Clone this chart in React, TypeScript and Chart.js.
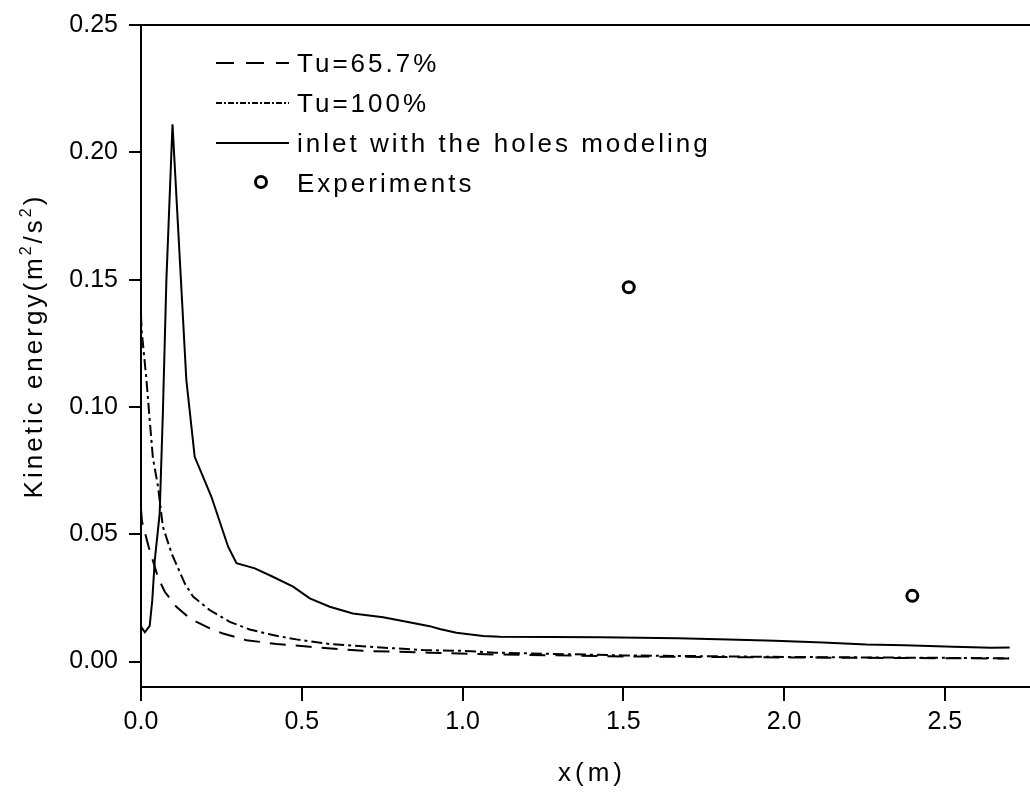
import React, { useEffect, useRef } from "react";
import { Chart, registerables } from "chart.js";

Chart.register(...registerables);

// ---- Data ----
const tu657X = [0, 0.003, 0.024, 0.053, 0.074, 0.11, 0.151, 0.214, 0.255, 0.328, 0.421, 0.525, 0.69, 0.898, 1.1, 1.5, 2.0, 2.7];
const tu657Y = [0.06, 0.055, 0.045, 0.033, 0.0274, 0.0215, 0.017, 0.013, 0.011, 0.0084, 0.0069, 0.0058, 0.0042, 0.0035, 0.0028, 0.002, 0.0016, 0.0012];

const tu100X = [0, 0.002, 0.017, 0.027, 0.037, 0.053, 0.068, 0.095, 0.136, 0.162, 0.214, 0.276, 0.338, 0.41, 0.483, 0.587, 0.711, 0.877, 1.0, 1.1, 1.5, 2.0, 2.7];
const tu100Y = [0.136, 0.13, 0.1106, 0.095, 0.08, 0.0687, 0.053, 0.0425, 0.0307, 0.0255, 0.0202, 0.0156, 0.0126, 0.0104, 0.0087, 0.0069, 0.0058, 0.0045, 0.0042, 0.0035, 0.0024, 0.0018, 0.0013];

const holesX = [0, 0.012, 0.027, 0.035, 0.043, 0.058, 0.068, 0.079, 0.098, 0.141, 0.167, 0.219, 0.271, 0.297, 0.354, 0.41, 0.473, 0.525, 0.587, 0.659, 0.753, 0.826, 0.898, 0.929, 0.981, 1.064, 1.116, 1.427, 1.67, 1.826, 1.971, 2.121, 2.256, 2.375, 2.526, 2.645, 2.702];
const holesY = [0.0137, 0.0115, 0.014, 0.024, 0.04, 0.058, 0.0975, 0.15, 0.211, 0.1106, 0.0804, 0.0647, 0.0451, 0.0386, 0.0366, 0.0333, 0.0294, 0.0248, 0.0215, 0.0189, 0.0174, 0.0156, 0.0139, 0.0128, 0.0113, 0.01, 0.0097, 0.0095, 0.0091, 0.0087, 0.0082, 0.0075, 0.0067, 0.0064, 0.0058, 0.0054, 0.0055];

const expX = [1.517, 2.399];
const expY = [0.147, 0.0258];

const seriesLabels = ["Tu=65.7%", "Tu=100%", "inlet with the holes modeling", "Experiments"];
const xTicks = [0, 0.5, 1.0, 1.5, 2.0, 2.5];
const yTicks = [0, 0.05, 0.1, 0.15, 0.2, 0.25];
const xTitle = "x(m)";
const yTitleParts = ["Kinetic energy(m", "2", "/s", "2", ")"];
const yTitleSup = [false, true, false, true, false];

const FONT = '"Liberation Sans", Arial, Helvetica, sans-serif';

function pts(xs: number[], ys: number[]) {
  return xs.map((x, i) => ({ x, y: ys[i] }));
}

const overlayPlugin = {
  id: "overlay",
  afterDraw(chart: any) {
    const ctx: CanvasRenderingContext2D = chart.ctx;
    const a = chart.chartArea;
    ctx.save();
    ctx.strokeStyle = "#000";
    ctx.fillStyle = "#000";
    ctx.lineWidth = 2;
    // top frame line
    ctx.beginPath();
    ctx.moveTo(a.left, a.top);
    ctx.lineTo(chart.width, a.top);
    ctx.stroke();

    // legend
    (ctx as any).letterSpacing = "3px";
    ctx.font = `26px ${FONT}`;
    ctx.textAlign = "left";
    ctx.textBaseline = "alphabetic";
    const baselines = [72, 112, 152, 192];
    chart.data.datasets.forEach((ds: any, i: number) => {
      const b = baselines[i];
      const cy = b - 9;
      if (ds.showLine === false) {
        ctx.setLineDash([]);
        ctx.lineWidth = 3;
        ctx.beginPath();
        ctx.arc(261, cy - 1, 5.5, 0, Math.PI * 2);
        ctx.stroke();
      } else {
        ctx.setLineDash(ds.legendDash || []);
        ctx.lineWidth = 2;
        ctx.beginPath();
        ctx.moveTo(216, cy);
        ctx.lineTo(289, cy);
        ctx.stroke();
      }
      ctx.setLineDash([]);
      ctx.fillText(ds.label, 297, b);
    });

    // x title
    ctx.textAlign = "center";
    (ctx as any).letterSpacing = "4px";
    ctx.fillText(xTitle, 592, 781);

    // y title (rotated)
    (ctx as any).letterSpacing = "3px";
    ctx.textAlign = "left";
    ctx.translate(42, 346);
    ctx.rotate(-Math.PI / 2);
    const widths = yTitleParts.map((t, i) => {
      ctx.font = yTitleSup[i] ? `16px ${FONT}` : `26px ${FONT}`;
      return ctx.measureText(t).width;
    });
    const total = widths.reduce((s, w) => s + w, 0);
    let u = -total / 2;
    yTitleParts.forEach((t, i) => {
      ctx.font = yTitleSup[i] ? `16px ${FONT}` : `26px ${FONT}`;
      ctx.fillText(t, u, yTitleSup[i] ? -11 : 0);
      u += widths[i];
    });
    ctx.restore();
  },
};

export default function App() {
  const ref = useRef<HTMLCanvasElement | null>(null);

  useEffect(() => {
    if (!ref.current) return;
    const tickFont = { size: 25, family: FONT };
    const chart = new Chart(ref.current, {
      type: "scatter",
      data: {
        datasets: [
          {
            label: seriesLabels[0],
            data: pts(tu657X, tu657Y),
            showLine: true,
            borderColor: "#000",
            borderWidth: 2,
            borderDash: [16, 10],
            legendDash: [18, 12],
            pointRadius: 0,
            tension: 0,
          } as any,
          {
            label: seriesLabels[1],
            data: pts(tu100X, tu100Y),
            showLine: true,
            borderColor: "#000",
            borderWidth: 2,
            borderDash: [11, 4, 3, 4],
            legendDash: [6, 2, 2, 2],
            pointRadius: 0,
            tension: 0,
          } as any,
          {
            label: seriesLabels[2],
            data: pts(holesX, holesY),
            showLine: true,
            borderColor: "#000",
            borderWidth: 2,
            legendDash: [],
            pointRadius: 0,
            tension: 0,
          } as any,
          {
            label: seriesLabels[3],
            data: pts(expX, expY),
            showLine: false,
            borderColor: "#000",
            backgroundColor: "#fff",
            borderWidth: 3,
            pointRadius: 5.5,
            pointStyle: "circle",
          } as any,
        ],
      },
      options: {
        responsive: false,
        animation: false,
        devicePixelRatio: 1,
        layout: { autoPadding: false, padding: { left: 0, right: 0, top: 25, bottom: 0 } },
        plugins: {
          legend: { display: false },
          tooltip: { enabled: false },
          title: { display: false },
        },
        scales: {
          x: {
            type: "linear",
            min: 0,
            max: 2.765,
            afterBuildTicks: (s: any) => {
              s.ticks = xTicks.map((v) => ({ value: v }));
            },
            afterFit: (s: any) => {
              s.height = 108;
              s.paddingLeft = 0;
              s.paddingRight = 0;
            },
            ticks: {
              font: tickFont,
              color: "#000",
              padding: 6,
              maxRotation: 0,
              autoSkip: false,
              callback: (v: any) => Number(v).toFixed(1),
            },
            grid: {
              display: true,
              drawOnChartArea: false,
              drawTicks: true,
              tickLength: 14,
              color: "#000",
              lineWidth: 2,
            },
            border: { display: true, color: "#000", width: 2 },
            title: { display: false },
          },
          y: {
            type: "linear",
            min: -0.01,
            max: 0.25,
            afterBuildTicks: (s: any) => {
              s.ticks = yTicks.map((v) => ({ value: v }));
            },
            afterFit: (s: any) => {
              s.width = 141;
              s.paddingTop = 0;
              s.paddingBottom = 0;
            },
            ticks: {
              font: tickFont,
              color: "#000",
              padding: 11,
              autoSkip: false,
              callback: (v: any) => Number(v).toFixed(2),
            },
            grid: {
              display: true,
              drawOnChartArea: false,
              drawTicks: true,
              tickLength: 12,
              color: "#000",
              lineWidth: 2,
            },
            border: { display: true, color: "#000", width: 2 },
            title: { display: false },
          },
        },
      },
      plugins: [overlayPlugin],
    });
    return () => chart.destroy();
  }, []);

  return (
    <div style={{ position: "absolute", left: 0, top: 0, width: 1030, height: 795, background: "#fff" }}>
      <canvas ref={ref} width={1030} height={795} style={{ display: "block" }} />
    </div>
  );
}
